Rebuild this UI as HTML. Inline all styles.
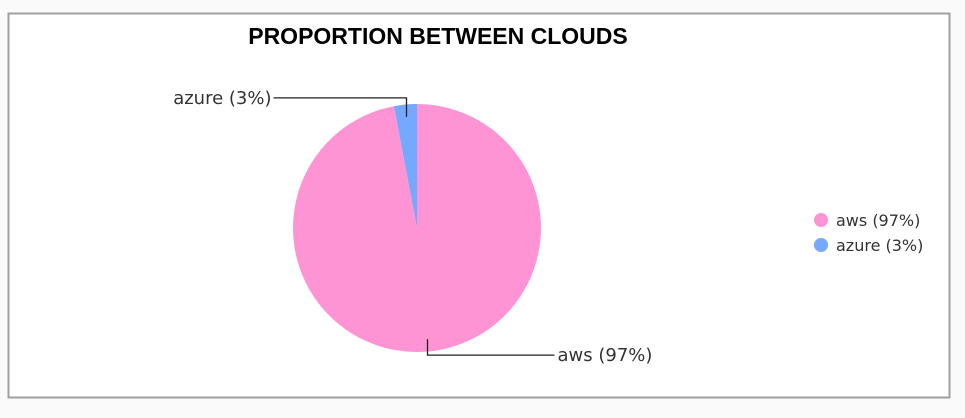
<!DOCTYPE html>
<html><head><meta charset="utf-8"><style>
body{margin:0;width:965px;height:414px;background:#fafafa;overflow:hidden;font-family:"DejaVu Sans","Liberation Sans",sans-serif;}
</style></head><body>
<svg width="965" height="414">
<rect x="8.5" y="13.5" width="941" height="384" fill="#fff" stroke="#a0a0a0" stroke-width="2"/>
<text x="438" y="44" text-anchor="middle" font-family="Liberation Sans" font-weight="bold" font-size="23" fill="#000">PROPORTION BETWEEN CLOUDS</text>
<g id="slices"></g>
<g id="labels"></g>
<g id="legend"></g>
</svg>
<script>
const categories = ["aws","azure"];
const values = [97,3];
const colors = ["#ff94d4","#75a8ff"];
const cx=417, cy=228, r=124;
const ns="http://www.w3.org/2000/svg";
const total=values.reduce((a,b)=>a+b,0);
const sg=document.getElementById('slices'), lg=document.getElementById('labels'), leg=document.getElementById('legend');
const pt=(f,rad)=>{const a=-Math.PI/2-f*2*Math.PI;return [cx+rad*Math.cos(a),cy+rad*Math.sin(a)];};
let start=0;
const order=[...categories.keys()].reverse();
order.forEach(i=>{
  const f0=start, f1=start+values[i]/total; start=f1;
  const p0=pt(f0,r), p1=pt(f1,r);
  const large=(f1-f0)>0.5?1:0;
  const p=document.createElementNS(ns,'path');
  p.setAttribute('d',`M${cx},${cy} L${p0[0]},${p0[1]} A${r},${r} 0 ${large} 0 ${p1[0]},${p1[1]} Z`);
  p.setAttribute('fill',colors[i]);
  
  
  sg.appendChild(p);
  const mid=(f0+f1)/2;
  const a=pt(mid,r*0.9);
  const pct=Math.round(values[i]/total*100);
  const label=`${categories[i]} (${pct}%)`;
  const left=a[0]<cx;
  const ly=left? a[1]-19 : a[1]+16;
  const lx=left? a[0]-133 : a[0]+127;
  const line=document.createElementNS(ns,'polyline');
  line.setAttribute('points',`${a[0]},${a[1]} ${a[0]},${ly} ${lx},${ly}`);
  line.setAttribute('fill','none');line.setAttribute('stroke','#222');line.setAttribute('stroke-width','1.3');
  
  
  lg.appendChild(line);
  const t=document.createElementNS(ns,'text');
  t.setAttribute('x',left?lx-2:lx+3);t.setAttribute('y',ly+6);
  t.setAttribute('text-anchor',left?'end':'start');
  t.setAttribute('font-size','18');t.setAttribute('fill','#333');
  t.textContent=label;
  
  
  lg.appendChild(t);
});
categories.forEach((c,i)=>{
  const g=document.createElementNS(ns,'g');
  
  
  const y=220+i*25;
  const ci=document.createElementNS(ns,'circle');
  ci.setAttribute('cx',821);ci.setAttribute('cy',y);ci.setAttribute('r',7);ci.setAttribute('fill',colors[i]);
  g.appendChild(ci);
  const t=document.createElementNS(ns,'text');
  t.setAttribute('x',836);t.setAttribute('y',y+6);t.setAttribute('font-size','16');t.setAttribute('fill','#333');
  t.textContent=`${c} (${Math.round(values[i]/total*100)}%)`;
  g.appendChild(t);
  leg.appendChild(g);
});
</script>
</body></html>
